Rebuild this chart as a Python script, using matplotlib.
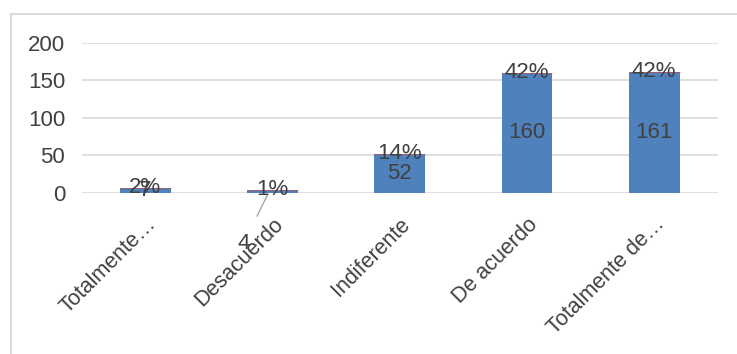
import matplotlib.pyplot as plt
from matplotlib.lines import Line2D

plt.rcParams['font.family'] = ['Liberation Sans', 'DejaVu Sans']

# respuestas por categoria
categorias = ['Totalmente…', 'Desacuerdo', 'Indiferente', 'De acuerdo', 'Totalmente de…']
cantidad = [7, 4, 52, 160, 161]
porcentaje = [0.02, 0.01, 0.14, 0.42, 0.42]
etiq_pct = ['2%', '1%', '14%', '42%', '42%']

azul = '#4F81BD'
rojo = '#C0504D'
gris_txt = '#404040'
gris_lin = '#D9D9D9'

fig = plt.figure(figsize=(7.37, 3.54), dpi=100)
ax = fig.add_axes([0.111, 0.455, 0.863, 0.424])

x = list(range(len(categorias)))
ax.bar(x, cantidad, width=0.4, color=azul, zorder=2)
ax.bar(x, porcentaje, bottom=cantidad, width=0.4, color=rojo,
       edgecolor=rojo, linewidth=0.5, zorder=3)

ax.set_ylim(0, 200)
ax.set_xlim(-0.5, 4.5)
ax.set_yticks([0, 50, 100, 150, 200])
ax.yaxis.grid(True, color=gris_lin, linewidth=1.2, zorder=0)
ax.set_axisbelow(True)
for s in ax.spines.values():
    s.set_visible(False)
ax.tick_params(axis='y', length=0, labelsize=16, labelcolor=gris_txt, pad=12)
ax.tick_params(axis='x', length=0, labelsize=15.5, labelcolor=gris_txt, pad=15)
ax.set_xticks(x)
ax.set_xticklabels(categorias, rotation=45, ha='right', rotation_mode='anchor')

# etiquetas de cantidad (centro de la barra)
for i, v in enumerate(cantidad):
    if i == 1:
        ax.annotate(str(v), xy=(i - 0.03, v / 2 - 1), xytext=(-25, -51),
                    textcoords='offset pixels', ha='center', va='center',
                    fontsize=16, color=gris_txt,
                    arrowprops=dict(arrowstyle='-', color='#A6A6A6', lw=1,
                                    shrinkA=11, shrinkB=2))
    else:
        ax.text(i, v / 2, str(v), ha='center', va='center',
                fontsize=16, color=gris_txt, zorder=4)

# etiquetas de porcentaje (borde superior)
for i, v in enumerate(cantidad):
    ax.text(i, v + porcentaje[i], etiq_pct[i], ha='center', va='center',
            fontsize=16, color=gris_txt, zorder=5)

# marco del grafico
fig.add_artist(Line2D([10.5 / 737, 10.5 / 737], [0, 1 - 13.5 / 354],
                      transform=fig.transFigure, color=gris_lin, lw=1.5))
fig.add_artist(Line2D([10.5 / 737, 1], [1 - 13.5 / 354, 1 - 13.5 / 354],
                      transform=fig.transFigure, color=gris_lin, lw=1.5))

fig.savefig('out.png', dpi=100, facecolor='white')
